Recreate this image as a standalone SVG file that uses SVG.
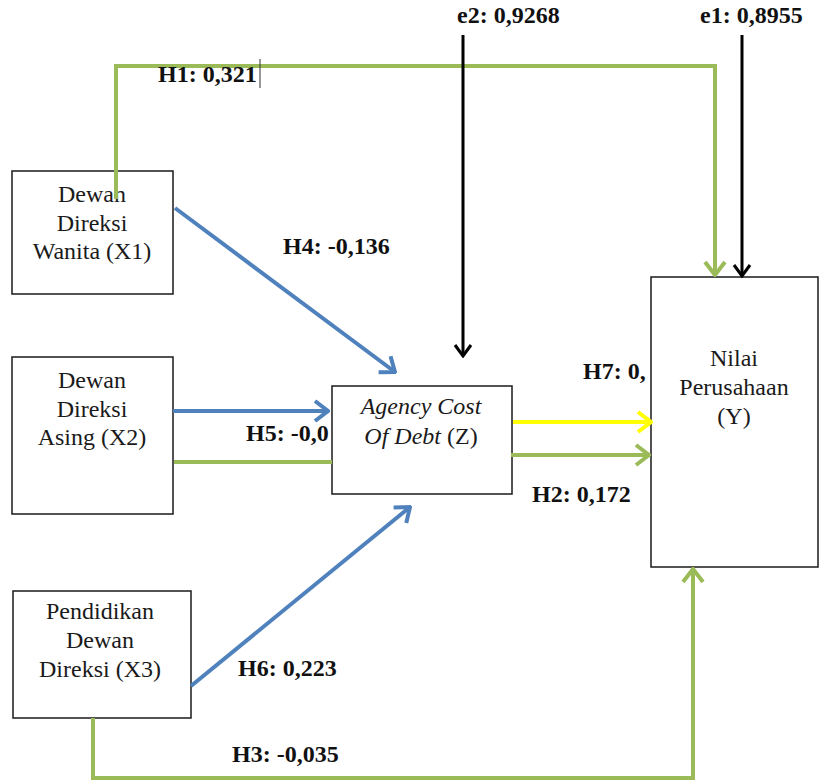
<svg xmlns="http://www.w3.org/2000/svg" width="820" height="783" viewBox="0 0 820 783">
<style>
.box{fill:#fff;stroke:#1a1a1a;stroke-width:1.5}
.nt{font-family:"Liberation Serif","Times New Roman",serif;font-size:24px;fill:#1a1a1a;text-anchor:middle}
.it{font-style:italic}
.lb{font-family:"Liberation Serif","Times New Roman",serif;font-size:24px;font-weight:bold;fill:#111}
.c{fill:none;stroke-width:4}
.g{stroke:#9BBB59}
.b{stroke:#4F81BD}
.y{stroke:#FFFF00}
.k{stroke:#000;stroke-width:3}
</style>
<defs>
<marker id="ag" viewBox="-16 -12 18 24" refX="0" refY="0" markerWidth="18" markerHeight="24" markerUnits="userSpaceOnUse" orient="auto"><path d="M-13,-10 L0,0 L-13,10" fill="none" stroke="#9BBB59" stroke-width="4"/></marker>
<marker id="ab" viewBox="-16 -12 18 24" refX="0" refY="0" markerWidth="18" markerHeight="24" markerUnits="userSpaceOnUse" orient="auto"><path d="M-13,-10 L0,0 L-13,10" fill="none" stroke="#4F81BD" stroke-width="4"/></marker>
<marker id="ay" viewBox="-16 -12 18 24" refX="0" refY="0" markerWidth="18" markerHeight="24" markerUnits="userSpaceOnUse" orient="auto"><path d="M-13,-10 L0,0 L-13,10" fill="none" stroke="#FFFF00" stroke-width="4"/></marker>
<marker id="ak" viewBox="-16 -12 18 24" refX="0" refY="0" markerWidth="18" markerHeight="24" markerUnits="userSpaceOnUse" orient="auto"><path d="M-11,-8 L0,0 L-11,8" fill="none" stroke="#000" stroke-width="3"/></marker>
</defs>
<rect width="820" height="783" fill="#fff"/>
<g id="label-H5"><text class="lb" x="246" y="441">H5: -0,0</text></g>
<g id="label-H7"><text class="lb" x="583" y="379">H7: 0,</text></g>
<g id="X1"><rect class="box" x="12" y="171" width="161" height="123"/>
<text class="nt" x="92" y="202">Dewan</text><text class="nt" x="92" y="231">Direksi</text><text class="nt" x="92" y="259">Wanita (X1)</text></g>
<g id="X2"><rect class="box" x="12" y="357" width="161" height="157"/>
<text class="nt" x="92" y="388">Dewan</text><text class="nt" x="92" y="417">Direksi</text><text class="nt" x="92" y="445">Asing (X2)</text></g>
<g id="X3"><rect class="box" x="13" y="591" width="178" height="127"/>
<text class="nt" x="100" y="619">Pendidikan</text><text class="nt" x="100" y="648">Dewan</text><text class="nt" x="100" y="677">Direksi (X3)</text></g>
<g id="Z"><rect class="box" x="332" y="386" width="180" height="108"/>
<text class="nt it" x="421" y="414">Agency Cost</text><text class="nt" x="421" y="444"><tspan class="it">Of Debt</tspan> (Z)</text></g>
<g id="Y"><rect class="box" x="651" y="277" width="167" height="290"/>
<text class="nt" x="734" y="366">Nilai</text><text class="nt" x="734" y="395">Perusahaan</text><text class="nt" x="734" y="424">(Y)</text></g>
<g id="connectors">
<path class="c g" d="M116,199 L116,66 L715,66 L715,275" marker-end="url(#ag)"/>
<path class="c g" d="M93,718 L93,778 L693,778 L693,569" marker-end="url(#ag)"/>
<path class="c k" d="M463,35 L463,356" marker-end="url(#ak)"/>
<path class="c k" d="M742,35 L742,276" marker-end="url(#ak)"/>
<path class="c b" d="M175,208 L395,372" marker-end="url(#ab)"/>
<path class="c b" d="M173,411 L328,411" marker-end="url(#ab)"/>
<path class="c g" d="M174,462 L332,462"/>
<path class="c y" d="M513,422 L651,422" marker-end="url(#ay)"/>
<path class="c g" d="M511,455 L649,455" marker-end="url(#ag)"/>
<path class="c b" d="M191,686 L410,507" marker-end="url(#ab)"/>
<line x1="260" y1="59" x2="260" y2="88" stroke="#333" stroke-width="1"/>
</g>
<g id="labels">
<text class="lb" x="158" y="82">H1: 0,321</text>
<text class="lb" x="457" y="23">e2: 0,9268</text>
<text class="lb" x="700" y="23">e1: 0,8955</text>
<text class="lb" x="283" y="254">H4: -0,136</text>
<text class="lb" x="532" y="502">H2: 0,172</text>
<text class="lb" x="238" y="676">H6: 0,223</text>
<text class="lb" x="232" y="762">H3: -0,035</text>
</g>
</svg>
